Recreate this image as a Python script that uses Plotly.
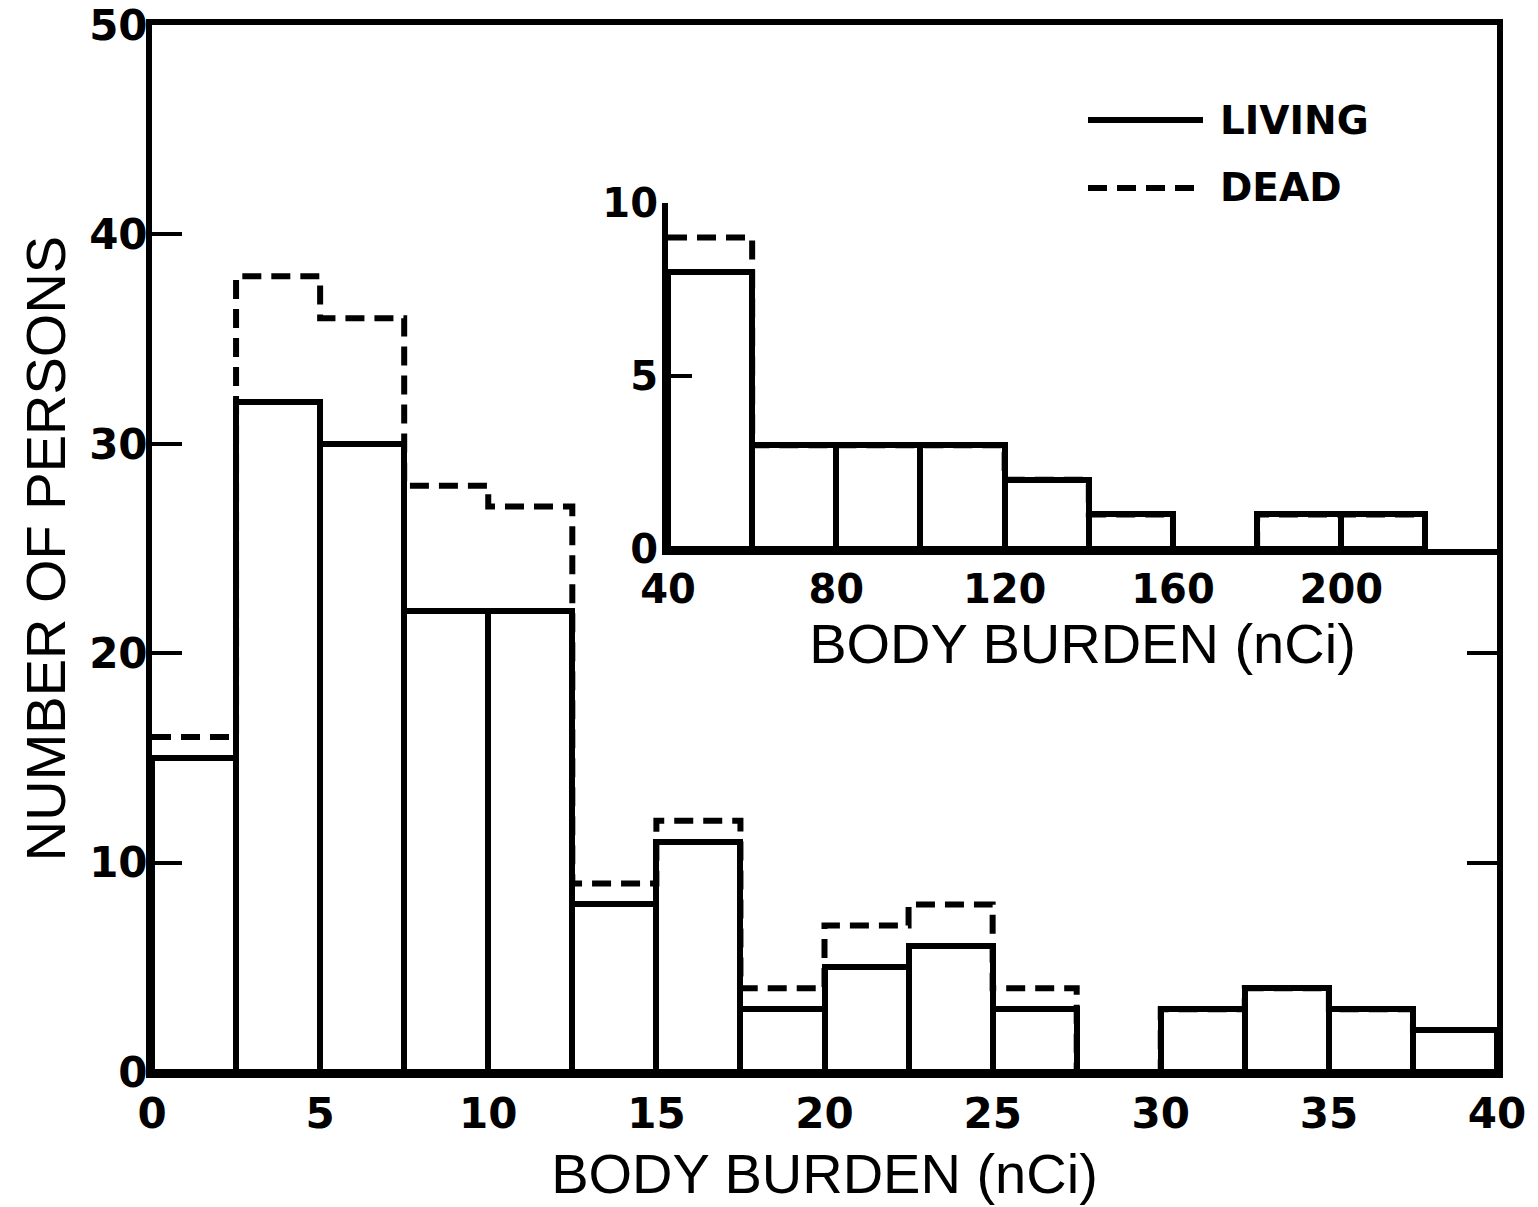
import numpy as np
import plotly.graph_objects as go

# ---- data ----
main_bin_edges = [0, 2.5, 5, 7.5, 10, 12.5, 15, 17.5, 20, 22.5, 25, 27.5, 30, 32.5, 35, 37.5, 40]
living_main = [15, 32, 30, 22, 22, 8, 11, 3, 5, 6, 3, 0, 3, 4, 3, 2]
dead_main = [16, 38, 36, 28, 27, 9, 12, 4, 7, 8, 4, 0, 3, 4, 3, 2]

inset_bin_edges = [40, 60, 80, 100, 120, 140, 160, 180, 200, 220]
living_inset = [8, 3, 3, 3, 2, 1, 0, 1, 1]
dead_inset = [9, 3, 3, 3, 2, 1, 0, 1, 1]

main_xticks = [0, 5, 10, 15, 20, 25, 30, 35, 40]
main_yticks = [0, 10, 20, 30, 40, 50]
inset_xticks = [40, 80, 120, 160, 200]
inset_yticks = [0, 5, 10]

x_title = "BODY BURDEN (nCi)"
y_title = "NUMBER OF PERSONS"
series_names = ["LIVING", "DEAD"]

# ---- styling ----
LW = 6
TITLE_FONT = dict(family="Liberation Sans", size=56, color="black")
TICK_FONT = dict(family="DejaVu Sans", size=42, color="black", weight="bold")
INSET_TICK_FONT = dict(family="DejaVu Sans", size=40, color="black", weight="bold")
DASH = "19px,10px"

def centers(edges):
    e = np.asarray(edges, dtype=float)
    return (e[:-1] + e[1:]) / 2, np.diff(e)

fig = go.Figure()

# main histogram
mc, mw = centers(main_bin_edges)
fig.add_trace(go.Bar(x=mc, y=living_main, width=mw, name=series_names[0],
                     marker=dict(color="white", line=dict(color="black", width=LW)),
                     showlegend=False, xaxis="x", yaxis="y"))
fig.add_trace(go.Scatter(x=main_bin_edges, y=list(dead_main) + [dead_main[-1]],
                         mode="lines", line=dict(shape="hv", color="black", width=LW, dash=DASH),
                         name=series_names[1], showlegend=False, xaxis="x", yaxis="y"))

# inset histogram
ic, iw = centers(inset_bin_edges)
fig.add_trace(go.Bar(x=ic, y=living_inset, width=iw, name=series_names[0],
                     marker=dict(color="white", line=dict(color="black", width=LW)),
                     showlegend=False, xaxis="x2", yaxis="y2"))
fig.add_trace(go.Scatter(x=inset_bin_edges, y=list(dead_inset) + [dead_inset[-1]],
                         mode="lines", line=dict(shape="hv", color="black", width=LW, dash=DASH),
                         name=series_names[1], showlegend=False, xaxis="x2", yaxis="y2"))

W, H = 1538, 1207
ML, MR, MT, MB = 152, 41, 25, 135
pw, ph = W - ML - MR, H - MT - MB

def px_to_paper_x(px):
    return (px - ML) / pw

def px_to_paper_y(py):
    return (H - MB - py) / ph

fig.update_layout(
    width=W, height=H,
    margin=dict(l=ML, r=MR, t=MT, b=MB, autoexpand=False),
    paper_bgcolor="white", plot_bgcolor="white",
    bargap=0, barmode="overlay",
    xaxis=dict(range=[0, 40], tickvals=main_xticks, ticks="", showgrid=False, zeroline=False,
               showline=True, linewidth=LW, linecolor="black", mirror=True, automargin=False,
               tickfont=TICK_FONT, ticklabelstandoff=0, ticklabeloverflow="allow",
               title=dict(text=x_title, font=TITLE_FONT, standoff=18)),
    yaxis=dict(range=[0, 50], tickvals=main_yticks, ticks="inside", ticklen=30, tickwidth=4,
               tickcolor="black", showgrid=False, zeroline=False, automargin=False,
               showline=True, linewidth=LW, linecolor="black", mirror="allticks",
               tickfont=TICK_FONT, ticklabelstandoff=-10, ticklabeloverflow="allow",
               title=dict(text=y_title, font=TITLE_FONT, standoff=8)),
    xaxis2=dict(domain=[px_to_paper_x(668), 1.0], range=[40, 237], anchor="y2",
                tickvals=inset_xticks, ticks="", showgrid=False, zeroline=False, automargin=False,
                showline=True, linewidth=LW, linecolor="black",
                tickfont=INSET_TICK_FONT, ticklabelstandoff=0, ticklabeloverflow="allow",
                title=dict(text=x_title, font=TITLE_FONT, standoff=12)),
    yaxis2=dict(domain=[px_to_paper_y(549), px_to_paper_y(203)], range=[0, 10], anchor="x2",
                tickvals=inset_yticks, ticks="inside", ticklen=24, tickwidth=4, tickcolor="black",
                showgrid=False, zeroline=False, automargin=False, ticklabeloverflow="allow",
                showline=True, linewidth=LW, linecolor="black", ticklabelstandoff=-4,
                tickfont=INSET_TICK_FONT),
    showlegend=False,
)

# legend keys (drawn manually to match long key lines)
legend_rows = [(px_to_paper_y(120), "solid", series_names[0]),
               (px_to_paper_y(188), DASH, series_names[1])]
for yy, dash, label in legend_rows:
    fig.add_shape(type="line", xref="paper", yref="paper",
                  x0=px_to_paper_x(1088), x1=px_to_paper_x(1203), y0=yy, y1=yy,
                  line=dict(color="black", width=LW, dash=dash))
    fig.add_annotation(xref="paper", yref="paper", x=px_to_paper_x(1218), y=yy,
                       text=label, showarrow=False, xanchor="left", yanchor="middle",
                       font=dict(family="DejaVu Sans", size=39, color="black", weight="bold"))

fig.write_html("out.html", config={"displayModeBar": False},
               post_script="document.body.style.margin='0';")
